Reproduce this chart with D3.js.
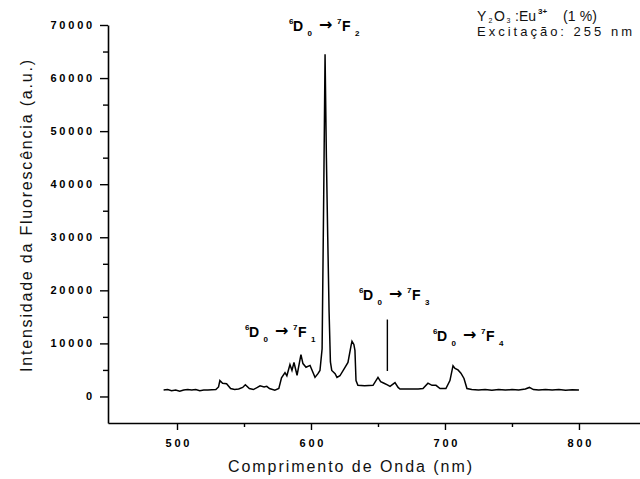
<!DOCTYPE html>
<html>
<head>
<meta charset="utf-8">
<script src="https://cdn.jsdelivr.net/npm/d3@7"></script>
<style>
  html, body { margin: 0; padding: 0; background: #fff; }
  svg { display: block; }
</style>
</head>
<body>
<svg id="chart" width="640" height="479"></svg>
<script>
// ---- Data ----
const wavelength = [490, 493, 496, 499, 502, 505, 508, 511, 514, 517, 520, 523, 526, 529, 531, 532, 534, 537, 540, 543, 546, 549, 551, 554, 557, 560, 562, 565, 567, 569, 573, 576, 578, 580.6, 582, 584.3, 585.8, 587.3, 589.6, 592.5, 594, 596.3, 599.3, 601.5, 603, 605.2, 606.7, 608.3, 609.5, 610.5, 611.5, 612.5, 613.5, 614.5, 615.5, 618, 619.4, 621.6, 625.4, 627.6, 629.9, 630.6, 632, 632.8, 633.6, 635, 640, 646.3, 650, 652, 654.5, 657, 659, 662.7, 665, 666.4, 670, 675, 680, 683.6, 687.3, 690.3, 693.3, 696.3, 700.7, 703.7, 706, 707.5, 709.7, 711.9, 714.2, 716.4, 720, 725, 730, 735, 740, 745, 750, 755, 760, 763, 766, 770, 775, 780, 785, 790, 795, 800];
const intensity = [1200, 1300, 1100, 1200, 1000, 1200, 1300, 1200, 1300, 1100, 1200, 1200, 1250, 1300, 1800, 3000, 2500, 2400, 1500, 1300, 1400, 1700, 2200, 1500, 1300, 1700, 2000, 1800, 1900, 1500, 1200, 1500, 3500, 4500, 3900, 6000, 4900, 6400, 4000, 7900, 6200, 5500, 5850, 4500, 3600, 4300, 4900, 9000, 38000, 64500, 45000, 30000, 16000, 6500, 4900, 4300, 3600, 3900, 5500, 6400, 9600, 10400, 9800, 8700, 3000, 2100, 2000, 2100, 3600, 2800, 2500, 2200, 1900, 2600, 1700, 1400, 1400, 1400, 1400, 1500, 2500, 2100, 2100, 1500, 1500, 3000, 5800, 5300, 5000, 4400, 3400, 1500, 1300, 1200, 1300, 1150, 1300, 1200, 1300, 1200, 1400, 1700, 1300, 1200, 1300, 1200, 1300, 1150, 1250, 1200];

const xMajorTicks = [500, 600, 700, 800];
const xMinorTicks = [550, 650, 750];
const yMajorTicks = [0, 10000, 20000, 30000, 40000, 50000, 60000, 70000];
const yMinorTicks = [5000, 15000, 25000, 35000, 45000, 55000, 65000];

const xTitle = "Comprimento de Onda (nm)";
const yTitle = "Intensidade da Fluorescência (a.u.)";

// transition labels: lower level J, anchored near each band
const transitions = [
  { j: "2", x0: 289, base: 31 },
  { j: "1", x0: 245, base: 337 },
  { j: "3", x0: 359, base: 300 },
  { j: "4", x0: 433, base: 341 }
];

// ---- Chart ----
const svg = d3.select("#chart");
const FONT = "'Liberation Sans', Arial, Helvetica, sans-serif";

const x = d3.scaleLinear().domain([448.5, 846]).range([108, 640.6]);
const y = d3.scaleLinear().domain([-5000, 70000]).range([423, 25]);

// Axes
const xAxis = svg.append("g").attr("transform", `translate(0,${y(-5000)})`)
  .call(d3.axisBottom(x).tickValues(xMajorTicks).tickSize(7).tickPadding(9).tickSizeOuter(0).tickFormat(d3.format("d")));
const xAxisMinor = svg.append("g").attr("transform", `translate(0,${y(-5000)})`)
  .call(d3.axisBottom(x).tickValues(xMinorTicks).tickSize(4).tickSizeOuter(0).tickFormat(""));
const yAxis = svg.append("g").attr("transform", `translate(${x(448.5)},0)`)
  .call(d3.axisLeft(y).tickValues(yMajorTicks).tickSize(8).tickPadding(5).tickSizeOuter(0).tickFormat(d3.format("d")));
const yAxisMinor = svg.append("g").attr("transform", `translate(${x(448.5)},0)`)
  .call(d3.axisLeft(y).tickValues(yMinorTicks).tickSize(5).tickSizeOuter(0).tickFormat(""));

svg.selectAll(".domain").attr("stroke", "#000").attr("stroke-width", 1.6);
svg.selectAll(".tick line").attr("stroke", "#000").attr("stroke-width", 1.4);
svg.selectAll(".tick text")
  .attr("font-family", FONT).attr("font-size", 11).attr("font-weight", "bold")
  .attr("letter-spacing", "2.8px").attr("fill", "#000");
xAxis.selectAll(".tick text").attr("dx", "1.4px");
xAxisMinor.select(".domain").remove();
yAxisMinor.select(".domain").remove();

// Spectrum line
const pts = wavelength.map((w, i) => [w, intensity[i]]);
svg.append("path")
  .datum(pts)
  .attr("fill", "none")
  .attr("stroke", "#000")
  .attr("stroke-width", 1.5)
  .attr("stroke-linejoin", "miter")
  .attr("d", d3.line().x(d => x(d[0])).y(d => y(d[1])));

// Marker line for 7F3
svg.append("line")
  .attr("x1", x(657)).attr("x2", x(657))
  .attr("y1", y(14500)).attr("y2", y(4800))
  .attr("stroke", "#000").attr("stroke-width", 1.4);

// Axis titles
svg.append("text")
  .attr("x", 350).attr("y", 472)
  .attr("text-anchor", "middle")
  .attr("font-family", FONT).attr("font-size", 16)
  .attr("textLength", 244).attr("lengthAdjust", "spacing")
  .attr("fill", "#111")
  .text(xTitle);

svg.append("text")
  .attr("transform", "translate(32,216) rotate(-90)")
  .attr("text-anchor", "middle")
  .attr("font-family", FONT).attr("font-size", 16)
  .attr("textLength", 312).attr("lengthAdjust", "spacing")
  .attr("fill", "#111")
  .text(yTitle);

// Transition labels
transitions.forEach(t => {
  const g = svg.append("g").attr("transform", `translate(${t.x0},${t.base})`)
    .attr("font-family", FONT).attr("font-weight", "bold");
  const add = (tx, ty, fs, s, fam) => g.append("text").attr("x", tx).attr("y", ty)
    .attr("font-size", fs).attr("fill", "#000").attr("font-family", fam || FONT).text(s);
  add(0, -7, 8, "6");
  add(4, 0, 14, "D");
  add(18.5, 5, 8, "0");
  add(30, -1, 16, "→", "'DejaVu Sans', sans-serif");
  add(48, -7, 8, "7");
  add(53, 0, 14, "F");
  add(66, 5, 8, t.j);
});

// Sample info text (top right)
const info = svg.append("g").attr("font-family", FONT).attr("fill", "#111");
const piece = (tx, ty, fs, s, w) => info.append("text").attr("x", tx).attr("y", ty)
  .attr("font-size", fs).attr("font-weight", w || "normal").text(s);
piece(477, 21, 14, "Y");
piece(488.5, 22.5, 7, "2");
piece(494, 21, 14, "O");
piece(506.5, 22.5, 7, "3");
piece(515, 21, 14, ":Eu");
piece(538, 14, 8, "3+", "bold");
info.append("text").attr("x", 563).attr("y", 21).attr("font-size", 14)
  .attr("textLength", 34).attr("lengthAdjust", "spacing").text("(1 %)");

info.append("text").attr("x", 477).attr("y", 36).attr("font-size", 13)
  .attr("textLength", 155).attr("lengthAdjust", "spacing")
  .text("Excitação: 255 nm");
</script>
</body>
</html>
